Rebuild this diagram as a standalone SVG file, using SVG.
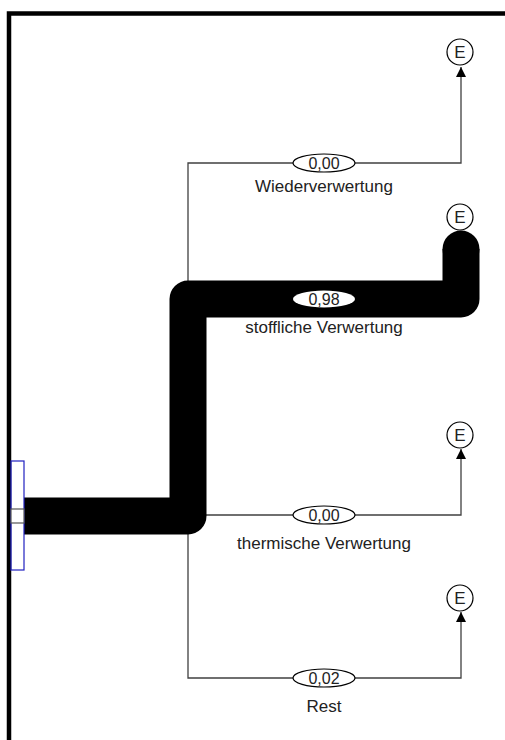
<svg xmlns="http://www.w3.org/2000/svg" width="505" height="740" viewBox="0 0 505 740">
<style>
.thin{fill:none;stroke:#404040;stroke-width:1.3}
.thick{fill:none;stroke:#000;stroke-width:37;stroke-linejoin:round}
.node{fill:#fff;stroke:#000;stroke-width:1.2}
.lbl{font-family:"Liberation Sans",Arial,sans-serif;font-size:17px;fill:#222;text-anchor:middle}
.val{font-family:"Liberation Sans",Arial,sans-serif;font-size:16px;fill:#222;text-anchor:middle}
.e{font-family:"Liberation Sans",Arial,sans-serif;font-size:17px;fill:#222;text-anchor:middle}
</style>
<defs>
<marker id="arr" markerWidth="10" markerHeight="10" refX="10" refY="5" orient="auto" markerUnits="userSpaceOnUse" viewBox="0 0 10 10">
<path d="M0,0 L10,5 L0,10 Z" fill="#000"/>
</marker>
</defs>
<rect x="0" y="0" width="505" height="740" fill="#fff"/>
<g id="frame">
<path d="M9,740 V13.5 H505" fill="none" stroke="#000" stroke-width="4.5"/>
</g>
<g id="connectors">
<path class="thin" d="M188,281 V163 H461 V67" marker-end="url(#arr)"/>
<path class="thin" d="M188,515 H461 V449" marker-end="url(#arr)"/>
<path class="thin" d="M188,530 V678 H461 V612" marker-end="url(#arr)"/>
<path class="thick" d="M24,516 H188 V299 H461 V249"/>
<circle cx="461" cy="249" r="18.5" fill="#000"/>
</g>
<g id="source">
<rect x="11" y="461" width="13" height="109" fill="none" stroke="#2020c0" stroke-width="1.2"/>
<rect x="11" y="509" width="13" height="14" fill="#fff" stroke="#555" stroke-width="1.2"/>
</g>
<g id="flow-wiederverwertung">
<ellipse class="node" cx="324" cy="163" rx="31" ry="9"/>
<text class="val" x="324" y="169">0,00</text>
<text class="lbl" x="324" y="192">Wiederverwertung</text>
</g>
<g id="flow-stofflich">
<ellipse cx="324" cy="299" rx="31" ry="8.5" fill="#fff"/>
<text class="val" x="324" y="305">0,98</text>
<text class="lbl" x="324" y="333">stoffliche Verwertung</text>
</g>
<g id="flow-thermisch">
<ellipse class="node" cx="324" cy="515" rx="31" ry="9"/>
<text class="val" x="324" y="521">0,00</text>
<text class="lbl" x="324" y="549">thermische Verwertung</text>
</g>
<g id="flow-rest">
<ellipse class="node" cx="324" cy="678" rx="31" ry="9"/>
<text class="val" x="324" y="684">0,02</text>
<text class="lbl" x="324" y="712">Rest</text>
</g>
<g id="e1"><circle class="node" cx="460" cy="52" r="13"/><text class="e" x="460" y="58">E</text></g>
<g id="e2"><circle class="node" cx="460" cy="217" r="13"/><text class="e" x="460" y="223">E</text></g>
<g id="e3"><circle class="node" cx="460" cy="435" r="13"/><text class="e" x="460" y="441">E</text></g>
<g id="e4"><circle class="node" cx="460" cy="598" r="13"/><text class="e" x="460" y="604">E</text></g>
</svg>
